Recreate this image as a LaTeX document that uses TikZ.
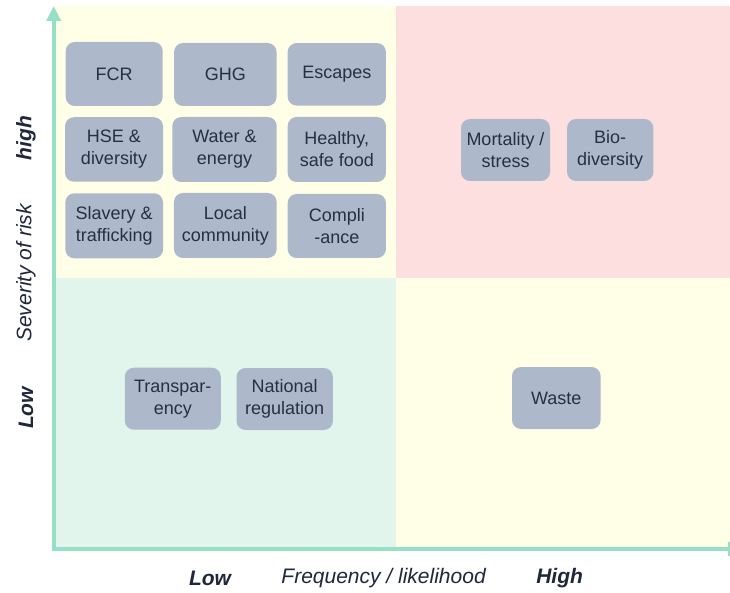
\documentclass[tikz,border=0pt]{standalone}
\usepackage{fontspec}
\setmainfont{Liberation Sans}
\usetikzlibrary{arrows.meta}
\definecolor{qyellow}{RGB}{255,255,232}
\definecolor{qred}{RGB}{253,223,223}
\definecolor{qgreen}{RGB}{226,245,236}
\definecolor{axismint}{RGB}{150,224,198}
\definecolor{boxfill}{RGB}{173,185,202}
\definecolor{boxtext}{RGB}{37,49,66}
\definecolor{labeltext}{RGB}{30,40,58}
\begin{document}
\begin{tikzpicture}[x=1pt,y=-1pt,
  riskbox/.style={fill=boxfill, rounded corners=9pt, text=boxtext, align=center,
    font=\fontsize{18}{22}\selectfont, inner sep=0pt},
  axislabel/.style={text=labeltext, font=\fontsize{21}{25}\selectfont\itshape, inner sep=0pt},
  axisbold/.style={text=labeltext, font=\fontsize{21}{25}\selectfont\bfseries\itshape, inner sep=0pt},
  axisline/.style={axismint, line width=4pt}]
\clip (0,0) rectangle (730,593);
\fill[white] (0,0) rectangle (730,593);
% quadrants
\fill[qyellow] (55,6) rectangle (395.5,278);
\fill[qred] (395.5,6) rectangle (730,278);
\fill[qgreen] (55,278) rectangle (395.5,548);
\fill[qyellow] (395.5,278) rectangle (730,548);
% axes
\coordinate (origin) at (53.7,549);
\coordinate (ytip) at (53.7,6);
\coordinate (xstart) at (51.7,549);
\coordinate (xtip) at (743,549);
\draw[axisline, -{Triangle[width=14pt,length=15pt]}] (origin) -- (ytip);
\draw[axisline, -{Triangle[width=14pt,length=15pt]}] (xstart) -- (xtip);
% high severity, low frequency
\node[riskbox, minimum width=97pt, minimum height=64pt] (fcr) at (114.2,74) {FCR};
\node[riskbox, minimum width=102.5pt, minimum height=63pt] (ghg) at (225.3,74.5) {GHG};
\node[riskbox, minimum width=98.3pt, minimum height=62.5pt] (escapes) at (336.8,74.3) {Escapes};
\node[riskbox, minimum width=98pt, minimum height=64.5pt] (hse) at (114,149.5) {HSE \&\\diversity};
\node[riskbox, minimum width=104.4pt, minimum height=65pt] (water) at (224.5,149.5) {Water \&\\energy};
\node[riskbox, minimum width=98.3pt, minimum height=65pt] (food) at (336.8,149.5) {Healthy,\\safe food};
\node[riskbox, minimum width=97.7pt, minimum height=65pt] (slavery) at (114.2,225.8) {Slavery \&\\trafficking};
\node[riskbox, minimum width=102.7pt, minimum height=65pt] (local) at (225.3,225.5) {Local\\community};
\node[riskbox, minimum width=98.3pt, minimum height=64pt] (compli) at (336.8,226) {Compli\\-ance};
% high severity, high frequency
\node[riskbox, minimum width=89pt, minimum height=62pt] (mortality) at (505.5,150) {Mortality /\\stress};
\node[riskbox, minimum width=86.3pt, minimum height=62pt] (bio) at (610.2,150) {Bio-\\diversity};
% low severity
\node[riskbox, minimum width=96pt, minimum height=62pt] (transp) at (172.8,398.7) {Transpar-\\ency};
\node[riskbox, minimum width=96.4pt, minimum height=62pt] (national) at (284.7,399) {National\\regulation};
\node[riskbox, minimum width=88.6pt, minimum height=62pt] (waste) at (556.3,398) {Waste};
% axis labels
\node[axisbold, rotate=90] (high) at (26,138) {high};
\node[axislabel, rotate=90] (severity) at (26,273) {Severity of risk};
\node[axisbold, rotate=90] (lowsev) at (26,408) {Low};
\node[axisbold] (lowfreq) at (210,578) {Low};
\node[axislabel] (frequency) at (383.6,578) {Frequency / likelihood};
\node[axisbold] (highfreq) at (559.6,578) {High};
\end{tikzpicture}
\end{document}
